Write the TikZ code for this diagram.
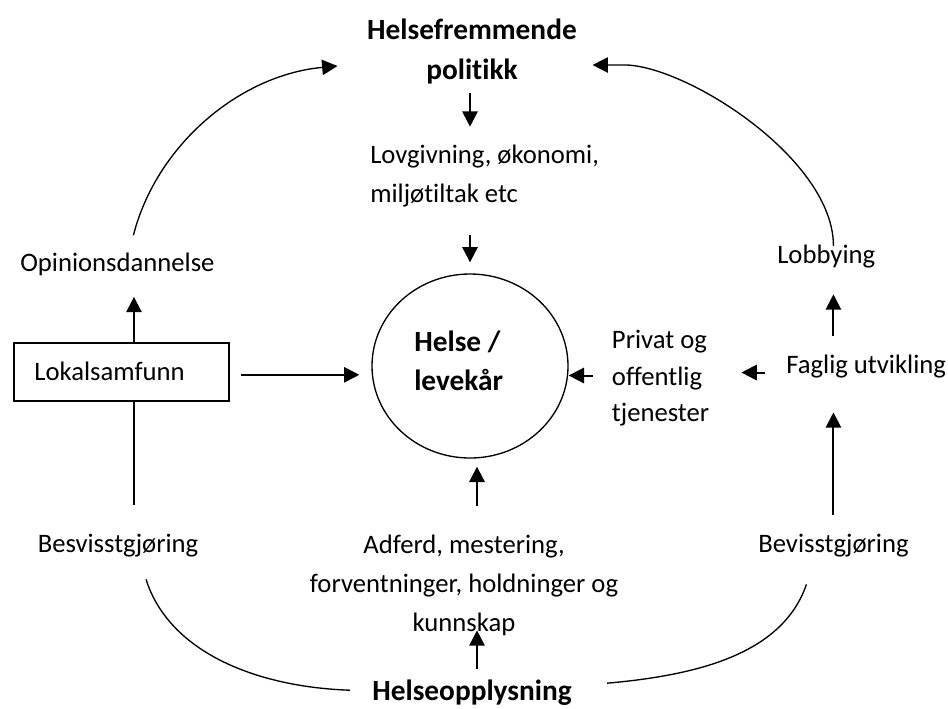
\documentclass[tikz,border=0pt]{standalone}
\usepackage{fontspec}
\setmainfont{Carlito}[Ligatures=NoCommon]
\usetikzlibrary{arrows.meta,shapes.geometric,calc}
\begin{document}
\begin{tikzpicture}[x=0.75pt,y=-0.75pt,
  txt/.style={inner sep=0pt, font=\fontsize{20pt}{29.25pt}\selectfont},
  hd/.style={inner sep=0pt, font=\fontsize{22pt}{30pt}\selectfont\bfseries},
  arr/.style={line width=1.5pt, -{Triangle[length=11.5pt,width=11.5pt]}},
  link/.style={line width=1.5pt},
  bow/.style={line width=1pt},
  bowarr/.style={line width=1pt, -{Triangle[length=11.5pt,width=11.5pt]}},
]
\useasboundingbox (0,0) rectangle (948,708);

% texts and shapes
\node[hd, align=center] (pol) at (472,52) {Helsefremmende\\politikk};
\node[txt, align=left, anchor=west] (lov) at (370,176) {Lovgivning, økonomi,\\miljøtiltak etc};
\node[draw, ellipse, line width=1pt, minimum width=147pt, minimum height=138pt, inner sep=0pt] (hl) at (470,366) {};
\node[hd, align=left, anchor=west, font=\fontsize{22pt}{29.25pt}\selectfont\bfseries] (hltxt) at (414,360.5) {Helse /\\levekår};
\node[txt, anchor=base west] (opin) at (20,271) {Opinionsdannelse};
\node[txt, draw, line width=1.5pt, anchor=west, inner xsep=15.5pt, inner ysep=0pt,
      text width=130.5pt, align=left, minimum height=43.5pt,
      text height=15.5pt, text depth=2.5pt] (lokal) at (12.7,372.3) {Lokalsamfunn};
\node[txt, anchor=base] (beL) at (118,552) {Besvisstgjøring};
\node[txt, align=center] (adf) at (464,585) {Adferd, mestering,\\forventninger, holdninger og\\kunnskap};
\node[hd, anchor=base] (hop) at (472,700) {Helseopplysning};
\node[txt, anchor=base west] (beR) at (758,552) {Bevisstgjøring};
\node[txt, anchor=base west] (fag) at (786,373) {Faglig utvikling};
\node[txt, align=left, anchor=west, font=\fontsize{20pt}{27.4pt}\selectfont] (priv) at (611.7,378.5) {Privat og\\offentlig\\tjenester};
\node[txt, anchor=base west] (lob) at (777,263) {Lobbying};

% helper lines for the vertical and horizontal connectors
\coordinate (lspine) at ($(lokal.north)+(12.6,0)$);
\coordinate (mspine) at ($(hl.south)+(7,0)$);
\coordinate (lrow) at ($(lokal.east)+(0,2.5)$);
\coordinate (frow) at ($(fag.west)+(0,6.5)$);
\coordinate (prow) at ($(priv.west)+(0,-3)$);

% policy down to health
\draw[arr, shorten <=6pt, shorten >=13.5pt] (pol.south -| hl.north) -- (lov.north -| hl.north);
\draw[arr, shorten <=20.6pt, shorten >=8.25pt] (lov.south -| hl.north) -- (hl.north);

% left branch
\draw[arr, shorten >=16pt] (lspine) -- (lspine |- opin.south);
\draw[link, shorten <=21.3pt] (lspine |- beL.north) -- (lspine |- lokal.south);
\draw[arr, shorten <=8.25pt, shorten >=9pt] (lrow) -- (lrow -| hl.west);

% middle branch
\draw[arr, shorten <=7.9pt, shorten >=-4pt] (mspine |- hop.north) -- (mspine |- adf.south);
\draw[arr, shorten <=21pt, shorten >=6pt] (mspine |- adf.north) -- (mspine |- hl.south);

% right branch
\draw[arr, shorten <=13.8pt, shorten >=25.9pt] (beR.north) -- (beR.north |- fag.south);
\draw[arr, shorten <=13.8pt, shorten >=19.9pt] (beR.north |- fag.north) -- (beR.north |- lob.south);
\draw[arr, shorten <=15.75pt, shorten >=24pt] (frow) -- (frow -| priv.east);
\draw[arr, shorten <=14pt] (prow) -- (prow -| hl.east);

% the outer cycle
\coordinate (lobtop) at ($(beR.north |- lob.south)+(0,-22)$);
\draw[bow] ($(beL.south)+(28,22.5)$) .. controls +(24,75) and +(-90,-3) .. ($(hop.west)+(-22,-2)$);
\draw[bow] ($(hop.east)+(35,-9)$) .. controls +(90,-8) and +(-24,70) .. ($(beR.south)+(-27,27.5)$);
\draw[bowarr] (lobtop) .. controls +(0,-86) and +(63,3) .. ($(pol.east)+(50,13)$) -- ($(pol.east)+(15.5,13)$);
\draw[bowarr] ($(opin.north)+(16,-17)$) .. controls +(23,-90) and +(-98,9) .. ($(pol.west)+(-29.5,14)$);
\end{tikzpicture}
\end{document}
